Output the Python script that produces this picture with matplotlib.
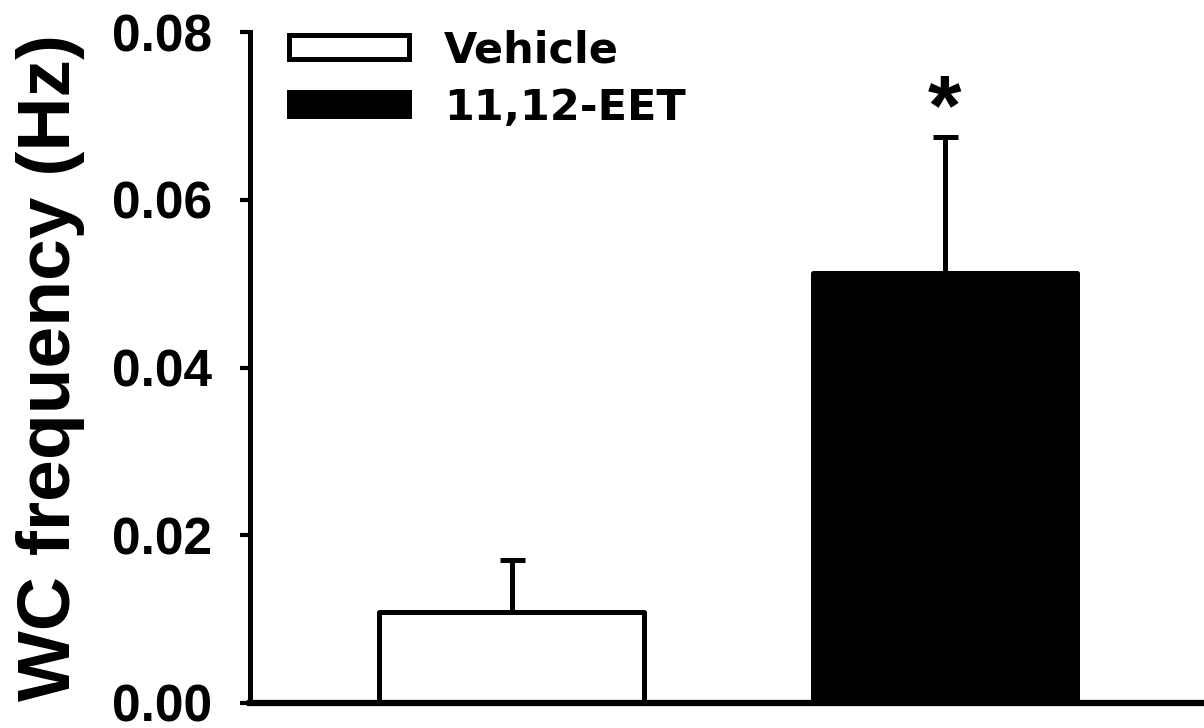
import numpy as np
import matplotlib.pyplot as plt

plt.rcParams['font.family'] = ['Liberation Sans', 'DejaVu Sans']
plt.rcParams['font.weight'] = 'bold'

groups = ['Vehicle', '11,12-EET']
means = [0.0109, 0.0513]
errors = [0.0062, 0.0162]
colors = ['white', 'black']
y_ticks = [0.00, 0.02, 0.04, 0.06, 0.08]
y_tick_labels = ['0.00', '0.02', '0.04', '0.06', '0.08']

fig = plt.figure(figsize=(12.04, 7.28), dpi=100)
ax = fig.add_axes([250/1204, 25/728, 1 - 250/1204, (703 - 32)/728])

x = np.arange(len(groups))
bars = ax.bar(x, means, width=0.61, color=colors, edgecolor='black',
              linewidth=3.6, label=groups, zorder=2)
for b in bars:
    b.set_joinstyle('round')
ax.errorbar(x, means, yerr=[np.zeros(len(means)), errors], fmt='none',
            ecolor='black', elinewidth=3.6, capsize=9, capthick=3.6, zorder=1)

# significance marker
ax.text(x[1], 0.0704, '*', ha='center', va='center',
        fontsize=62, fontweight='bold')

ax.set_xlim(-0.604, 1.599)
ax.set_ylim(0, 0.08)
ax.set_yticks(y_ticks)
ax.set_yticklabels(y_tick_labels)
ax.set_xticks([])
ax.tick_params(axis='y', direction='out', length=7, width=3, pad=20, labelsize=37)
for s in ['top', 'right']:
    ax.spines[s].set_visible(False)
ax.spines['left'].set_linewidth(3.6)
ax.spines['bottom'].set_linewidth(4.5)
ax.set_ylabel('WC frequency (Hz)', fontsize=54, fontweight='bold', labelpad=20)

leg = ax.legend(loc='upper left', bbox_to_anchor=(0.0, 1.062), frameon=False,
                prop={'family': 'DejaVu Sans', 'weight': 'bold', 'size': 31},
                handlelength=2.8, handleheight=0.48,
                handletextpad=0.8, labelspacing=0.36)

fig.savefig('out.png', dpi=100)
